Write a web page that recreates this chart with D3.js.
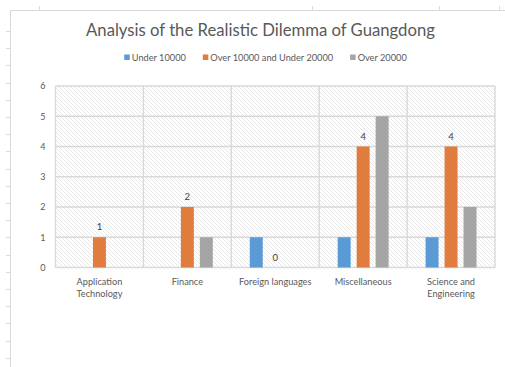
<!DOCTYPE html>
<html><head><meta charset="utf-8">
<script src="https://cdn.jsdelivr.net/npm/d3@7"></script>
<style>
html,body{margin:0;padding:0;background:#fff;}
svg{display:block;font-family:Lato,"Open Sans",sans-serif;}
</style></head>
<body>
<svg id="chart" width="505" height="367"></svg>
<script>
const title = "Analysis of the Realistic Dilemma of Guangdong";
const categories = ["Application Technology","Finance","Foreign languages","Miscellaneous","Science and Engineering"];
const seriesNames = ["Under 10000","Over 10000 and Under 20000","Over 20000"];
const under10000 = [0,0,1,1,1];
const from10000to20000 = [1,2,0,4,4];
const over20000 = [0,1,0,5,2];
const yTicks = [0,1,2,3,4,5,6];
const colors = ["#5b9bd5","#e07d3e","#a5a5a5"];

const seriesValues = [under10000, from10000to20000, over20000];
const svg = d3.select("#chart");

// spreadsheet frame decorations
const frame = svg.append("g").attr("stroke","#d9d9d9").attr("stroke-width",1).attr("fill","none");
frame.append("path").attr("d","M10.5,367 V10.5 H505");
d3.range(31,367,17.2).forEach(y=>frame.append("line").attr("x1",6).attr("x2",10).attr("y1",Math.round(y)+0.5).attr("y2",Math.round(y)+0.5));
[39,312,439,499].forEach(x=>frame.append("line").attr("x1",x+0.5).attr("x2",x+0.5).attr("y1",6).attr("y2",10));

// pattern
const defs = svg.append("defs");
const pat = defs.append("pattern").attr("id","hatch").attr("patternUnits","userSpaceOnUse").attr("width",4).attr("height",4);
pat.append("rect").attr("width",4).attr("height",4).attr("fill","#ffffff");
pat.append("path").attr("d","M-1,-1 L5,5 M-1,3 L1,5 M3,-1 L5,1").attr("stroke","#e4e4e4").attr("stroke-width",0.9);

const L=55.5, R=495, T=86, B=267.5;
const x0 = d3.scaleBand().domain(categories).range([L,R]).paddingInner(31/88).paddingOuter(31/176);
const x1 = d3.scaleBand().domain(seriesNames).range([0,x0.bandwidth()]).paddingInner(6/19).paddingOuter(3/19);
const y = d3.scaleLinear().domain([0,6]).range([B,T]);

svg.append("rect").attr("x",L).attr("y",T).attr("width",R-L).attr("height",B-T).attr("fill","url(#hatch)");

// gridlines
const grid = svg.append("g").attr("stroke","#d9d9d9").attr("stroke-width",1.4);
yTicks.forEach(t=>grid.append("line").attr("x1",L).attr("x2",R).attr("y1",y(t)).attr("y2",y(t)));
const step = x0.step();
d3.range(categories.length+1).forEach(i=>{
  const xx = L + i*step;
  grid.append("line").attr("x1",xx).attr("x2",xx).attr("y1",T).attr("y2",B);
});

// y axis labels
const yAxis = d3.axisLeft(y).tickValues(yTicks).tickFormat(d3.format("d")).tickSize(0).tickPadding(10);
const ya = svg.append("g").attr("transform",`translate(${L},0)`).call(yAxis);
ya.select(".domain").remove();
ya.selectAll("text").attr("fill","#595959").style("font-size","9px").style("font-family","Lato,sans-serif");

// bars
const groups = svg.append("g").selectAll("g").data(categories).join("g")
  .attr("transform",d=>`translate(${x0(d)},0)`);
groups.selectAll("rect").data((c,i)=>seriesNames.map((s,j)=>({s,j,v:seriesValues[j][i]})))
  .join("rect")
  .attr("x",d=>x1(d.s)).attr("width",x1.bandwidth())
  .attr("y",d=>y(d.v)).attr("height",d=>B-y(d.v))
  .attr("fill",d=>colors[d.j]);

// data labels (middle series)
groups.append("text")
  .attr("x",x1(seriesNames[1])+x1.bandwidth()/2)
  .attr("y",(c,i)=>y(from10000to20000[i])-7)
  .attr("text-anchor","middle").attr("fill","#404040").style("font-size","9.5px")
  .text((c,i)=>from10000to20000[i]);

// x labels with wrapping
const xl = svg.append("g");
categories.forEach(c=>{
  const t = xl.append("text").attr("x",x0(c)+x0.bandwidth()/2).attr("y",285)
    .attr("text-anchor","middle").attr("fill","#595959").style("font-size","9.2px");
  const words = c.split(" ");
  let line=[], lines=[];
  const tmp = t.append("tspan");
  words.forEach(w=>{
    line.push(w);
    tmp.text(line.join(" "));
    if (tmp.node().getComputedTextLength()>80 && line.length>1){
      line.pop(); lines.push(line.join(" ")); line=[w];
    }
  });
  lines.push(line.join(" "));
  tmp.remove();
  lines.forEach((ln,k)=>t.append("tspan").attr("x",x0(c)+x0.bandwidth()/2).attr("dy",k===0?0:12).text(ln));
});

// title fitted
const tt = svg.append("text").attr("x",260.5).attr("y",36).attr("text-anchor","middle")
  .attr("fill","#595959").style("font-size","17px").text(title);
const tw = tt.node().getComputedTextLength();
tt.style("font-size",(17*349/tw)+"px");

// legend
const leg = svg.append("g");
const items = [];
seriesNames.forEach((s,j)=>{
  const g = leg.append("g");
  g.append("rect").attr("x",0).attr("y",-5.5).attr("width",5.5).attr("height",5.5).attr("fill",colors[j]);
  const tx = g.append("text").attr("x",7.5).attr("y",0.5).attr("fill","#595959").style("font-size","9px").text(s);
  items.push({g,tx});
});
const gap = 17;
const textW = d3.sum(items,it=>it.tx.node().getComputedTextLength());
const targetText = 283 - gap*2 - 7.5*3;
const lfs = 9*targetText/textW;
items.forEach(it=>it.tx.style("font-size",lfs+"px"));
const ws = items.map(it=>7.5+it.tx.node().getComputedTextLength());
const total = d3.sum(ws)+gap*(items.length-1);
let cx = 265.5 - total/2;
items.forEach((it,i)=>{ it.g.attr("transform",`translate(${cx},60)`); cx += ws[i]+gap; });
</script>
</body></html>
